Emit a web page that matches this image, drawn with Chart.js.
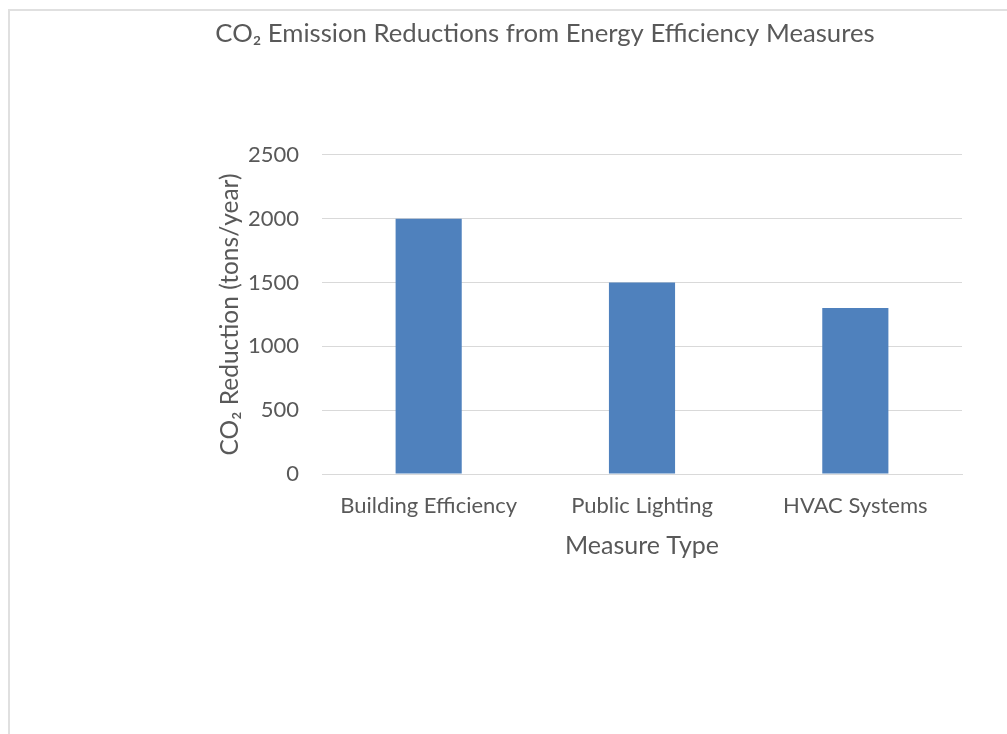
<!DOCTYPE html>
<html>
<head>
<meta charset="utf-8">
<script src="https://cdn.jsdelivr.net/npm/chart.js@4.4.1/dist/chart.umd.min.js"></script>
<style>
  html, body { margin: 0; padding: 0; background: #fff; overflow: hidden; }
  #wrap { position: relative; width: 1007px; height: 734px; }
  #frame {
    position: absolute; left: 8px; top: 9px; width: 1100px; height: 800px;
    border-left: 2px solid #e0e0e0; border-top: 2px solid #e0e0e0;
  }
  canvas { position: absolute; left: 0; top: 0; }
</style>
</head>
<body>
<div id="wrap">
  <div id="frame"></div>
  <canvas id="chart" width="1007" height="734"></canvas>
</div>
<script>
// ── data ──
const categories = ['Building Efficiency', 'Public Lighting', 'HVAC Systems'];
const reductions = [2000, 1500, 1300];
const yTicks     = [0, 500, 1000, 1500, 2000, 2500];

const TEXT = '#595959';
const GRID = '#d9d9d9';
const BAR  = '#4f81bd';
const FONT = 'Lato, "Noto Sans", sans-serif';

const ctx = document.getElementById('chart').getContext('2d');
new Chart(ctx, {
  type: 'bar',
  data: {
    labels: categories,
    datasets: [{
      label: 'CO₂ Reduction',
      data: reductions,
      backgroundColor: BAR,
      borderWidth: 0,
      categoryPercentage: 1,
      barPercentage: 0.31,
    }],
  },
  options: {
    responsive: false,
    animation: false,
    layout: { padding: { top: 18, left: 128, right: 45, bottom: 0 } },
    scales: {
      x: {
        afterFit: s => { s.height = 260; },
        grid: { display: false, drawTicks: false },
        border: { color: GRID, width: 1 },
        ticks: { color: TEXT, font: { family: FONT, size: 22 }, padding: 19, maxRotation: 0 },
        title: {
          display: true, text: 'Measure Type', color: TEXT,
          font: { family: FONT, size: 25 }, padding: { top: 0, bottom: 173 },
        },
      },
      y: {
        min: 0, max: 2500,
        afterBuildTicks: s => { s.ticks = yTicks.map(v => ({ value: v })); },
        afterFit: s => { s.width = 194; },
        grid: { color: GRID, lineWidth: 1, drawTicks: false },
        border: { display: false },
        ticks: { color: TEXT, font: { family: FONT, size: 22 }, padding: 23, callback: v => String(v) },
        title: {
          display: true, text: 'CO₂ Reduction (tons/year)', color: TEXT,
          font: { family: FONT, size: 24.5 }, padding: { top: 87, bottom: 0 },
        },
      },
    },
    plugins: {
      legend: { display: false },
      tooltip: { enabled: false },
      title: {
        display: true,
        text: 'CO₂ Emission Reductions from Energy Efficiency Measures',
        color: TEXT,
        font: { family: FONT, size: 25.7, weight: 'normal' },
        padding: { top: 0, bottom: 106 },
      },
    },
  },
});
</script>
</body>
</html>
